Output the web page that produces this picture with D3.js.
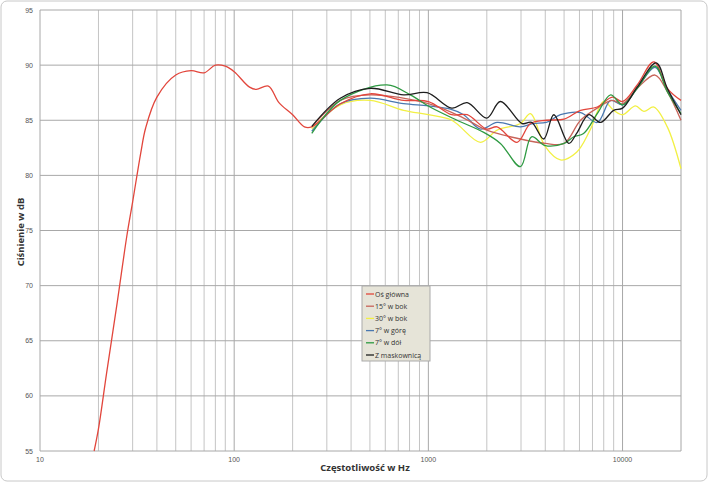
<!DOCTYPE html>
<html><head><meta charset="utf-8">
<script src="https://cdn.jsdelivr.net/npm/d3@7"></script>
<style>body{margin:0;background:#fff}</style>
</head><body>
<svg id="chart" width="708" height="482"></svg>
<script>
// frequency [Hz], level [dB]
var osGlowna = [[19,55],[20,57],[22,62],[25,68.5],[28,74.5],[30,77.6],[33,82],[35,84.3],[40,87.1],[50,89.1],[60,89.5],[70,89.3],[80,90],[90,89.9],[100,89.4],[120,88],[130,87.8],[150,88.1],[170,86.6],[200,85.5],[230,84.4],[251,84.4],
  [352,86.5],[502,87.4],[746,86.8],[1000,86.7],[1320,85.5],[1585,85.5],[2000,84.2],[2260,84.4],[2863,83.0],[3357,84.7],[4050,85],[5000,85.1],[6080,85.9],[7410,86.2],[8850,87.1],[10000,86.7],[11900,88.2],[14500,90.3],[17000,87.9],[20000,86.8]]
var bok15 = [[251,84.4],[352,86.8],[502,87.3],[1000,86.5],[1520,85.2],[2000,84.1],[2979,83.3],[4000,82.9],[5000,82.9],[6080,85],[7410,86.1],[8850,86.8],[10000,86.5],[11900,87.9],[14700,89.1],[17000,87.6],[20000,85]]
var bok30 = [[251,84.2],[352,86.4],[502,86.8],[746,85.9],[1000,85.5],[1320,85],[1855,83],[2260,84.1],[2979,84.7],[3357,85.6],[4000,82.6],[4790,81.4],[5800,82.1],[6800,84.1],[8000,86.7],[9000,85.9],[10000,85.5],[11660,86.3],[12880,85.8],[14500,86.2],[17000,84.4],[20000,80.6]]
var gora7 = [[251,84],[352,86.5],[502,87],[746,86.5],[1000,86.3],[1298,86],[1520,85.5],[1855,84.2],[2260,84.8],[2979,84.4],[3450,84.7],[4050,84.8],[4790,85.5],[6080,85.7],[7410,84.8],[8680,86.8],[10000,86.4],[11900,87.9],[14700,89.8],[17000,87.8],[20000,85.9]]
var dol7 = [[251,83.8],[352,86.8],[612,88.2],[807,87.3],[1020,86.2],[1406,85],[1929,83.9],[2350,82.9],[2979,80.8],[3400,83.5],[4000,82.7],[5000,82.9],[5610,83.5],[6300,83.8],[7410,85.6],[8680,87.3],[10000,86.4],[11900,87.9],[14700,89.9],[17000,87.6],[20000,85.6]]
var maskownica = [[251,84.45],[352,87],[502,87.9],[746,87.3],[985,87.5],[1320,86.1],[1585,86.6],[2000,85.2],[2350,86.7],[3040,84.7],[3400,84.8],[3930,83.3],[4425,85.5],[5290,82.9],[5800,83.8],[6700,85.5],[7700,84.8],[9000,85.9],[10000,86.1],[11900,88],[14900,90.2],[17000,87.9],[20000,85.5]]

var seriesNames = ["Oś główna","15° w bok","30° w bok","7° w górę","7° w dół","Z maskownicą"]
var seriesColors = ["#e2463c","#c8645a","#f2f044","#4a78b0","#2e9a42","#1e1e1e"]
var seriesData = [osGlowna,bok15,bok30,gora7,dol7,maskownica]
var yTicks = [55,60,65,70,75,80,85,90,95]
var xLabels = [10,100,1000,10000]

var svg = d3.select("#chart")
svg.append("rect").attr("x",1).attr("y",1).attr("width",706).attr("height",480).attr("rx",6)
   .attr("fill","#fff").attr("stroke","#c8c8c8")

var x = d3.scaleLog().domain([10,20000]).range([40,681])
var y = d3.scaleLinear().domain([55,95]).range([451,10])

var xGrid = []
for (var d = 10; d <= 10000; d *= 10)
  for (var k = 1; k <= 9; k++) if (d*k <= 20000) xGrid.push(d*k)
xGrid.push(20000)

svg.append("g").selectAll("line").data(xGrid).enter().append("line")
   .attr("x1", function(d){return x(d)}).attr("x2", function(d){return x(d)})
   .attr("y1", 10).attr("y2", 451)
   .attr("stroke", function(d){return xLabels.indexOf(d) >= 0 ? "#a8a8a8" : "#c4c4c4"})
   .attr("stroke-width", 1)
svg.append("g").selectAll("line").data(yTicks).enter().append("line")
   .attr("x1", 40).attr("x2", 681)
   .attr("y1", function(d){return y(d)}).attr("y2", function(d){return y(d)})
   .attr("stroke","#a8a8a8")

svg.append("g").selectAll("text").data(yTicks).enter().append("text")
   .attr("x", 33).attr("y", function(d){return y(d)+2.5})
   .attr("text-anchor","end").attr("font-size","7px").attr("fill","#555")
   .attr("font-family","Liberation Sans, Arial").text(function(d){return d})
svg.append("g").selectAll("text").data(xLabels).enter().append("text")
   .attr("x", function(d){return x(d)}).attr("y", 462)
   .attr("text-anchor","middle").attr("font-size","7px").attr("fill","#555")
   .attr("font-family","Liberation Sans, Arial").text(function(d){return d})

svg.append("text").attr("x",365).attr("y",471).attr("text-anchor","middle")
   .attr("font-size","9.5px").attr("font-weight","bold").attr("font-family","Open Sans, Arial")
   .attr("fill","#333").text("Częstotliwość w Hz")
svg.append("text").attr("transform","translate(24,232) rotate(-90)").attr("text-anchor","middle")
   .attr("font-size","9.5px").attr("font-weight","bold").attr("font-family","Open Sans, Arial")
   .attr("fill","#333").text("Ciśnienie w dB")

var line = d3.line().x(function(d){return x(d[0])}).y(function(d){return y(d[1])})
             .curve(d3.curveCatmullRom.alpha(0.5))
var order = [2,3,1,0,4,5]
svg.append("g").selectAll("path").data(order).enter().append("path")
   .attr("d", function(i){return line(seriesData[i])})
   .attr("fill","none").attr("stroke", function(i){return seriesColors[i]}).attr("stroke-width",1.3)

var lg = svg.append("g").attr("transform","translate(362,286)")
lg.append("rect").attr("width",68).attr("height",75).attr("fill","#e6e4d8").attr("stroke","#aaa")
var item = lg.selectAll("g").data(seriesNames).enter().append("g")
   .attr("transform", function(d,i){return "translate(4," + (8 + i*12.2) + ")"})
item.append("line").attr("x1",0).attr("x2",8).attr("stroke", function(d,i){return seriesColors[i]}).attr("stroke-width",1.3)
item.append("text").attr("x",9).attr("y",2.5).attr("font-size","7px").attr("fill","#333")
    .attr("font-family","Open Sans, Arial").text(function(d){return d})
</script>
</body></html>
